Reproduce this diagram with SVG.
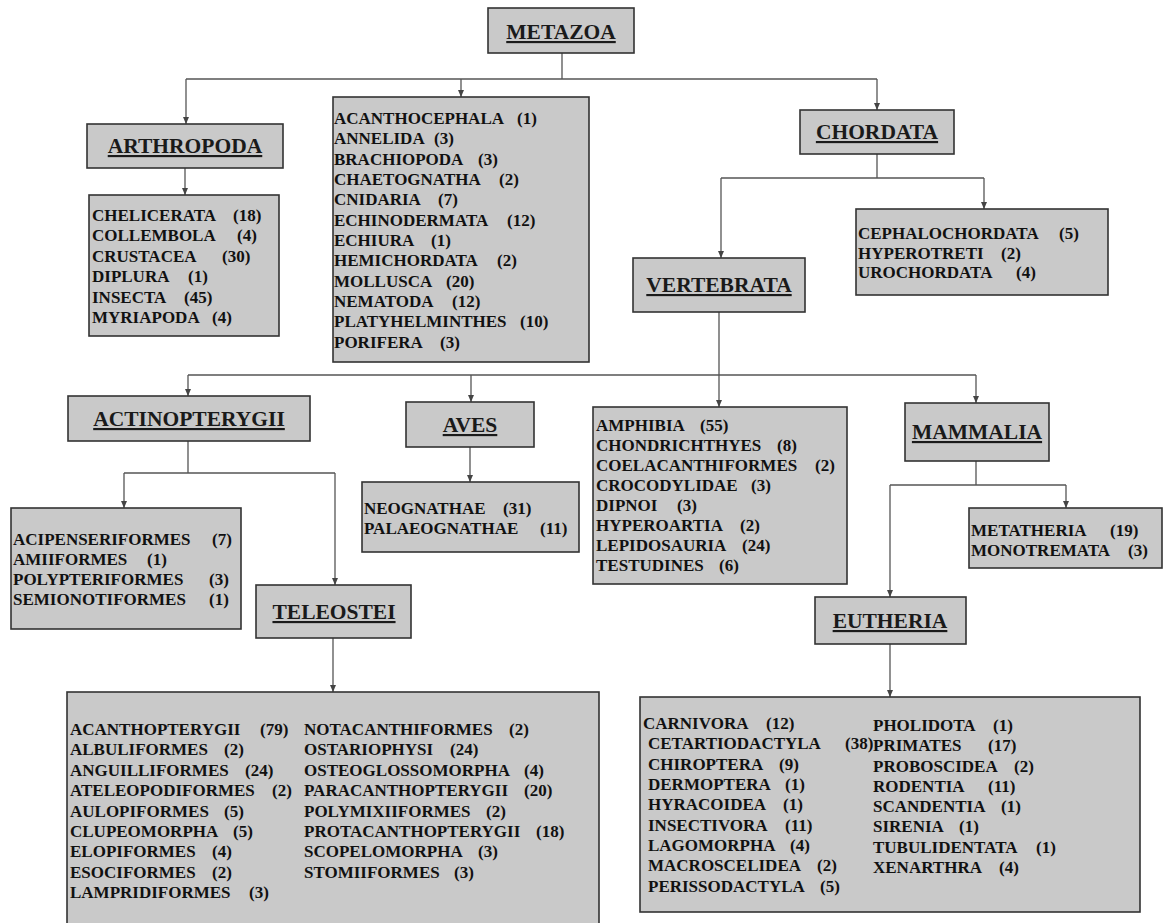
<svg xmlns="http://www.w3.org/2000/svg" width="1169" height="923" viewBox="0 0 1169 923">
<style>
.box{fill:#c9c9c9;stroke:#333;stroke-width:1.6}
.hdr{font-family:"Liberation Serif","Times New Roman",serif;font-weight:bold;font-size:21.5px;text-anchor:middle;text-decoration:underline;fill:#1a1a1a}
.lst{font-family:"Liberation Serif","Times New Roman",serif;font-weight:bold;font-size:17px;fill:#111}
.conn{stroke:#555;stroke-width:1.3;fill:none}
.arr{stroke:#555;stroke-width:1.3;fill:none;marker-end:url(#ah)}
</style>
<defs>
<marker id="ah" markerWidth="7" markerHeight="6" refX="7" refY="3" orient="auto" markerUnits="userSpaceOnUse">
<path d="M0,0 L7,3 L0,6 z" fill="#444"/>
</marker>
</defs>
<rect width="1169" height="923" fill="#fff"/>

<g id="connectors">
<path class="conn" d="M562,53 V79 M186,79 H877"/>
<path class="arr" d="M186,79 V124"/>
<path class="arr" d="M461,79 V97"/>
<path class="arr" d="M877,79 V110"/>
<path class="arr" d="M185,168 V195"/>
<path class="conn" d="M877,154 V178 M721,178 H984"/>
<path class="arr" d="M721,178 V258"/>
<path class="arr" d="M984,178 V209"/>
<path class="conn" d="M719,312 V375 M188,375 H976"/>
<path class="arr" d="M188,375 V396"/>
<path class="arr" d="M471,375 V402"/>
<path class="arr" d="M719,375 V407"/>
<path class="arr" d="M976,375 V403"/>
<path class="conn" d="M188,441 V473 M124,473 H335"/>
<path class="arr" d="M124,473 V508"/>
<path class="arr" d="M335,473 V585"/>
<path class="arr" d="M470,447 V482"/>
<path class="arr" d="M333,638 V692"/>
<path class="conn" d="M976,461 V485 M890,485 H1066"/>
<path class="arr" d="M1066,485 V508"/>
<path class="arr" d="M890,485 V597"/>
<path class="arr" d="M890,644 V697"/>
</g>

<g id="metazoa">
<rect class="box" x="488" y="8" width="146" height="45"/>
<text class="hdr" x="561" y="39">METAZOA</text>
</g>

<g id="arthropoda">
<rect class="box" x="87" y="124" width="196" height="44"/>
<text class="hdr" x="185" y="153">ARTHROPODA</text>
</g>

<g id="arthropoda-list">
<rect class="box" x="89" y="195" width="190" height="141"/>
<text class="lst" x="92" y="221">CHELICERATA<tspan x="233">(18)</tspan></text>
<text class="lst" x="92" y="241">COLLEMBOLA<tspan x="237">(4)</tspan></text>
<text class="lst" x="92" y="262">CRUSTACEA<tspan x="222">(30)</tspan></text>
<text class="lst" x="92" y="282">DIPLURA<tspan x="188">(1)</tspan></text>
<text class="lst" x="92" y="303">INSECTA<tspan x="184">(45)</tspan></text>
<text class="lst" x="92" y="323">MYRIAPODA<tspan x="212">(4)</tspan></text>
</g>

<g id="other-phyla">
<rect class="box" x="333" y="97" width="256" height="265"/>
<text class="lst" x="334" y="124">ACANTHOCEPHALA<tspan x="517">(1)</tspan></text>
<text class="lst" x="334" y="144">ANNELIDA<tspan x="434">(3)</tspan></text>
<text class="lst" x="334" y="165">BRACHIOPODA<tspan x="478">(3)</tspan></text>
<text class="lst" x="334" y="185">CHAETOGNATHA<tspan x="499">(2)</tspan></text>
<text class="lst" x="334" y="205">CNIDARIA<tspan x="438">(7)</tspan></text>
<text class="lst" x="334" y="226">ECHINODERMATA<tspan x="507">(12)</tspan></text>
<text class="lst" x="334" y="246">ECHIURA<tspan x="431">(1)</tspan></text>
<text class="lst" x="334" y="266">HEMICHORDATA<tspan x="497">(2)</tspan></text>
<text class="lst" x="334" y="287">MOLLUSCA<tspan x="446">(20)</tspan></text>
<text class="lst" x="334" y="307">NEMATODA<tspan x="452">(12)</tspan></text>
<text class="lst" x="334" y="327">PLATYHELMINTHES<tspan x="520">(10)</tspan></text>
<text class="lst" x="334" y="348">PORIFERA<tspan x="440">(3)</tspan></text>
</g>

<g id="chordata">
<rect class="box" x="800" y="110" width="154" height="44"/>
<text class="hdr" x="877" y="139">CHORDATA</text>
</g>

<g id="chordata-list">
<rect class="box" x="856" y="209" width="252" height="86"/>
<text class="lst" x="858" y="239">CEPHALOCHORDATA<tspan x="1059">(5)</tspan></text>
<text class="lst" x="858" y="259">HYPEROTRETI<tspan x="1001">(2)</tspan></text>
<text class="lst" x="858" y="278">UROCHORDATA<tspan x="1016">(4)</tspan></text>
</g>

<g id="vertebrata">
<rect class="box" x="633" y="258" width="172" height="54"/>
<text class="hdr" x="719" y="292">VERTEBRATA</text>
</g>

<g id="actinopterygii">
<rect class="box" x="68" y="396" width="242" height="45"/>
<text class="hdr" x="189" y="426">ACTINOPTERYGII</text>
</g>

<g id="aves">
<rect class="box" x="406" y="402" width="128" height="45"/>
<text class="hdr" x="470" y="432">AVES</text>
</g>

<g id="aves-list">
<rect class="box" x="362" y="482" width="217" height="70"/>
<text class="lst" x="364" y="514">NEOGNATHAE<tspan x="503">(31)</tspan></text>
<text class="lst" x="364" y="534">PALAEOGNATHAE<tspan x="540">(11)</tspan></text>
</g>

<g id="vertebrata-list">
<rect class="box" x="593" y="407" width="254" height="177"/>
<text class="lst" x="596" y="431">AMPHIBIA<tspan x="700">(55)</tspan></text>
<text class="lst" x="596" y="451">CHONDRICHTHYES<tspan x="777">(8)</tspan></text>
<text class="lst" x="596" y="471">COELACANTHIFORMES<tspan x="815">(2)</tspan></text>
<text class="lst" x="596" y="491">CROCODYLIDAE<tspan x="751">(3)</tspan></text>
<text class="lst" x="596" y="511">DIPNOI<tspan x="677">(3)</tspan></text>
<text class="lst" x="596" y="531">HYPEROARTIA<tspan x="740">(2)</tspan></text>
<text class="lst" x="596" y="551">LEPIDOSAURIA<tspan x="742">(24)</tspan></text>
<text class="lst" x="596" y="571">TESTUDINES<tspan x="719">(6)</tspan></text>
</g>

<g id="mammalia">
<rect class="box" x="905" y="403" width="144" height="58"/>
<text class="hdr" x="977" y="439">MAMMALIA</text>
</g>

<g id="mammalia-list">
<rect class="box" x="969" y="508" width="193" height="60"/>
<text class="lst" x="971" y="536">METATHERIA<tspan x="1110">(19)</tspan></text>
<text class="lst" x="971" y="556">MONOTREMATA<tspan x="1128">(3)</tspan></text>
</g>

<g id="actinopterygii-list">
<rect class="box" x="11" y="508" width="230" height="121"/>
<text class="lst" x="13" y="545">ACIPENSERIFORMES<tspan x="212">(7)</tspan></text>
<text class="lst" x="13" y="565">AMIIFORMES<tspan x="147">(1)</tspan></text>
<text class="lst" x="13" y="585">POLYPTERIFORMES<tspan x="209">(3)</tspan></text>
<text class="lst" x="13" y="605">SEMIONOTIFORMES<tspan x="209">(1)</tspan></text>
</g>

<g id="teleostei">
<rect class="box" x="256" y="585" width="155" height="53"/>
<text class="hdr" x="334" y="619">TELEOSTEI</text>
</g>

<g id="teleostei-list">
<rect class="box" x="67" y="692" width="532" height="245"/>
<text class="lst" x="70" y="735">ACANTHOPTERYGII<tspan x="260">(79)</tspan></text>
<text class="lst" x="70" y="755">ALBULIFORMES<tspan x="224">(2)</tspan></text>
<text class="lst" x="70" y="776">ANGUILLIFORMES<tspan x="245">(24)</tspan></text>
<text class="lst" x="70" y="796">ATELEOPODIFORMES<tspan x="272">(2)</tspan></text>
<text class="lst" x="70" y="817">AULOPIFORMES<tspan x="224">(5)</tspan></text>
<text class="lst" x="70" y="837">CLUPEOMORPHA<tspan x="233">(5)</tspan></text>
<text class="lst" x="70" y="857">ELOPIFORMES<tspan x="212">(4)</tspan></text>
<text class="lst" x="70" y="878">ESOCIFORMES<tspan x="212">(2)</tspan></text>
<text class="lst" x="70" y="898">LAMPRIDIFORMES<tspan x="249">(3)</tspan></text>
<text class="lst" x="304" y="735">NOTACANTHIFORMES<tspan x="509">(2)</tspan></text>
<text class="lst" x="304" y="755">OSTARIOPHYSI<tspan x="450">(24)</tspan></text>
<text class="lst" x="304" y="776">OSTEOGLOSSOMORPHA<tspan x="524">(4)</tspan></text>
<text class="lst" x="304" y="796">PARACANTHOPTERYGII<tspan x="524">(20)</tspan></text>
<text class="lst" x="304" y="817">POLYMIXIIFORMES<tspan x="486">(2)</tspan></text>
<text class="lst" x="304" y="837">PROTACANTHOPTERYGII<tspan x="536">(18)</tspan></text>
<text class="lst" x="304" y="857">SCOPELOMORPHA<tspan x="478">(3)</tspan></text>
<text class="lst" x="304" y="878">STOMIIFORMES<tspan x="454">(3)</tspan></text>
</g>

<g id="eutheria">
<rect class="box" x="815" y="597" width="151" height="47"/>
<text class="hdr" x="890" y="628">EUTHERIA</text>
</g>

<g id="eutheria-list">
<rect class="box" x="640" y="697" width="500" height="215"/>
<text class="lst" x="643" y="729">CARNIVORA<tspan x="766">(12)</tspan></text>
<text class="lst" x="648" y="749">CETARTIODACTYLA<tspan x="845">(38)</tspan></text>
<text class="lst" x="648" y="770">CHIROPTERA<tspan x="779">(9)</tspan></text>
<text class="lst" x="648" y="790">DERMOPTERA<tspan x="785">(1)</tspan></text>
<text class="lst" x="648" y="810">HYRACOIDEA<tspan x="783">(1)</tspan></text>
<text class="lst" x="648" y="831">INSECTIVORA<tspan x="785">(11)</tspan></text>
<text class="lst" x="648" y="851">LAGOMORPHA<tspan x="790">(4)</tspan></text>
<text class="lst" x="648" y="871">MACROSCELIDEA<tspan x="817">(2)</tspan></text>
<text class="lst" x="648" y="892">PERISSODACTYLA<tspan x="820">(5)</tspan></text>
<text class="lst" x="873" y="731">PHOLIDOTA<tspan x="993">(1)</tspan></text>
<text class="lst" x="873" y="751">PRIMATES<tspan x="988">(17)</tspan></text>
<text class="lst" x="873" y="772">PROBOSCIDEA<tspan x="1014">(2)</tspan></text>
<text class="lst" x="873" y="792">RODENTIA<tspan x="988">(11)</tspan></text>
<text class="lst" x="873" y="812">SCANDENTIA<tspan x="1001">(1)</tspan></text>
<text class="lst" x="873" y="832">SIRENIA<tspan x="959">(1)</tspan></text>
<text class="lst" x="873" y="853">TUBULIDENTATA<tspan x="1036">(1)</tspan></text>
<text class="lst" x="873" y="873">XENARTHRA<tspan x="999">(4)</tspan></text>
</g>
</svg>
